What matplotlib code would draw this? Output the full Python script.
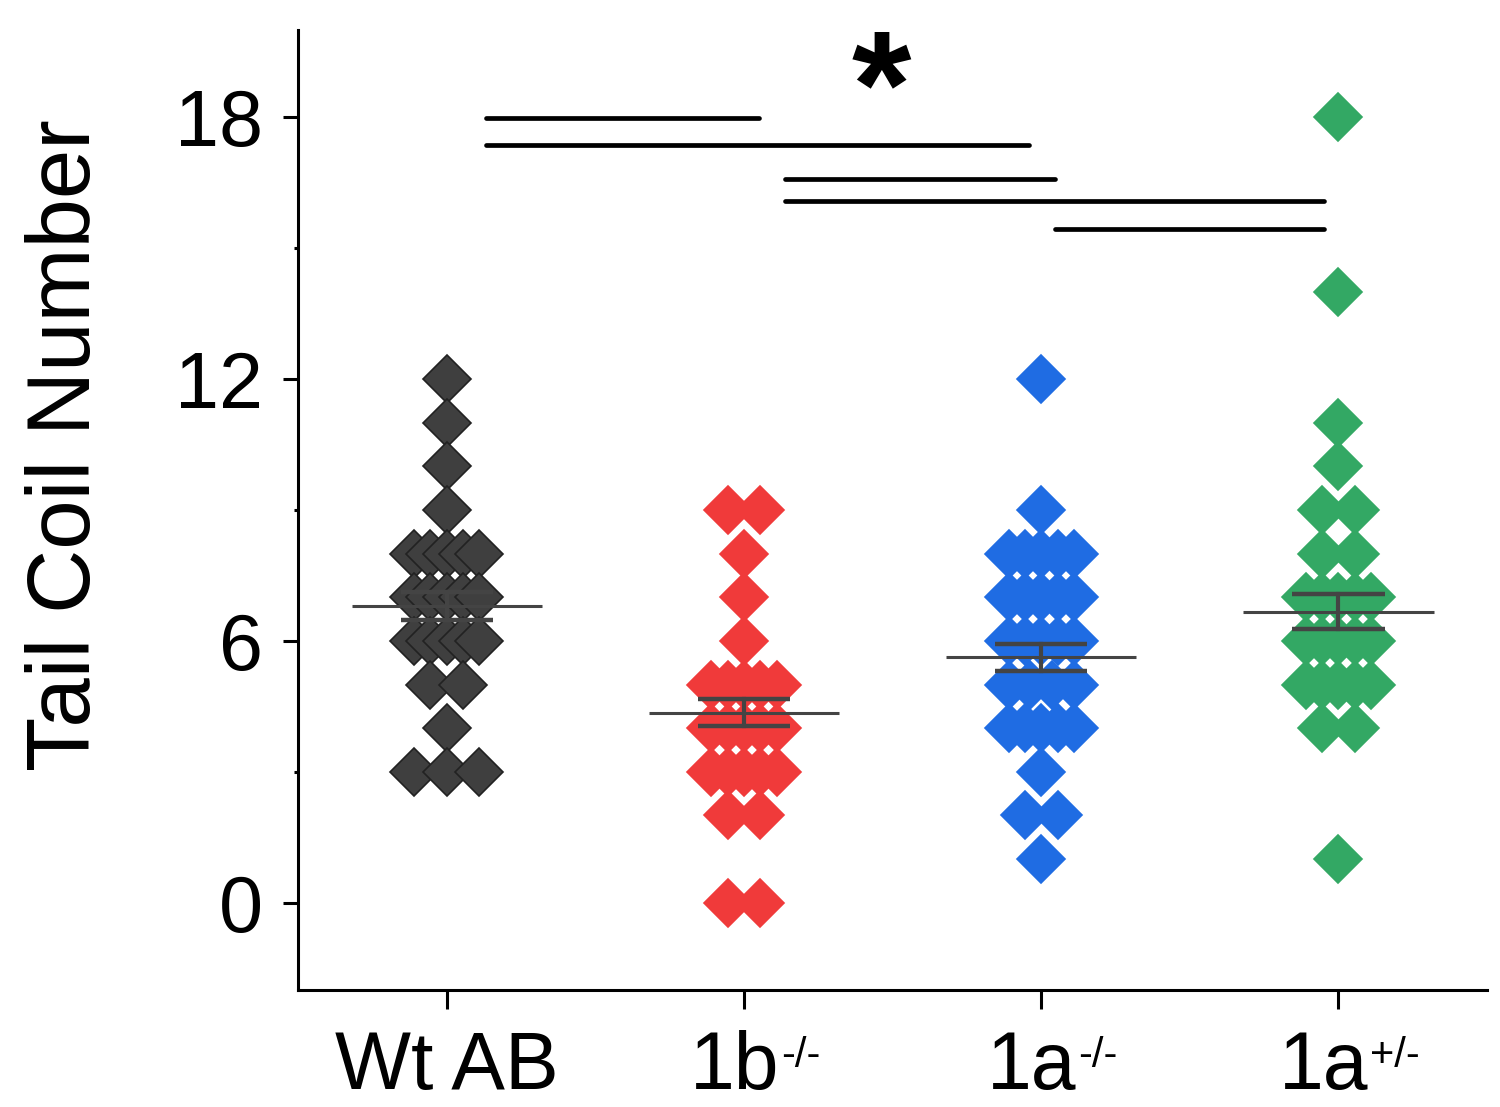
import numpy as np
import matplotlib
matplotlib.use("Agg")
import matplotlib.pyplot as plt
from matplotlib import transforms

plt.rcParams['font.family'] = ['Liberation Sans', 'DejaVu Sans']

# ---------------- data ----------------
categories = ['Wt AB', '1b', '1a', '1a']
superscripts = ['', '-/-', '-/-', '+/-']
wt_vals = [12, 11, 10, 9, 8, 8, 8, 8, 8, 7, 7, 7, 7, 7, 6, 6, 6, 6, 6, 5, 5, 4, 3, 3, 3]
b1_vals = [9, 9, 8, 7, 6, 5, 5, 5, 5, 5, 4, 4, 4, 4, 4, 3, 3, 3, 3, 3, 2, 2, 0, 0]
a1_vals = [12, 9, 8, 8, 8, 8, 8, 7, 7, 7, 7, 7, 6, 6, 6, 6, 6, 5, 5, 5, 5, 4, 4, 4, 4, 4, 3, 2, 2, 1]
a1het_vals = [18, 14, 11, 10, 9, 9, 8, 8, 7, 7, 7, 7, 7, 6, 6, 6, 6, 6, 5, 5, 5, 5, 5, 4, 4, 1]
group_vals = [wt_vals, b1_vals, a1_vals, a1het_vals]

means = [6.80, 4.35, 5.63, 6.67]
sems = [0.33, 0.31, 0.31, 0.40]

colors = ['#3f3f3f', '#f03a3a', '#1f6ce3', '#33a864']
edgecolors = ['#222222', '#f03a3a', '#1f6ce3', '#33a864']

# significance bars (start group pos, end group pos, height)
sig_x_start = [0.131, 0.131, 1.137, 1.137, 2.045]
sig_x_end = [1.049, 1.958, 2.045, 2.953, 2.953]
sig_y = [17.99, 17.37, 16.59, 16.09, 15.45]
star_x = 1.463
star_y = 18.45

yticks = [0, 6, 12, 18]
yminor = [3, 9, 15]


def swarm_offsets(vals, dx, wmax):
    vals = np.asarray(vals)
    off = np.zeros(len(vals))
    for v in np.unique(vals):
        idx = np.where(vals == v)[0]
        n = len(idx)
        if n == 1:
            continue
        w = min((n - 1) / 2.0 * dx, wmax)
        off[idx] = np.linspace(-w, w, n)
    return off


fig = plt.figure(figsize=(15, 11.07), dpi=100)
ax = fig.add_axes([0.1987, 0.1057, 0.7927, 0.8672])

positions = np.arange(len(categories))
for i, vals in enumerate(group_vals):
    xs = positions[i] + swarm_offsets(vals, 0.11, 0.11)
    ax.plot(xs, vals, linestyle='none', marker='D', markersize=24,
            markerfacecolor=colors[i], markeredgecolor=edgecolors[i],
            markeredgewidth=1.2, zorder=2)

err_color = '#444444'
for i in range(len(categories)):
    p = positions[i]
    m = means[i]
    s = sems[i]
    ax.plot([p - 0.32, p + 0.32], [m, m], color=err_color, lw=2.2, zorder=4,
            solid_capstyle='butt')
    ax.plot([p, p], [m - s, m + s], color=err_color, lw=3.0, zorder=4)
    for yy in (m - s, m + s):
        ax.plot([p - 0.155, p + 0.155], [yy, yy], color=err_color, lw=3.2,
                zorder=4, solid_capstyle='butt')

for xs_, xe_, yy in zip(sig_x_start, sig_x_end, sig_y):
    ax.plot([xs_, xe_], [yy, yy], color='black', lw=3.4, zorder=3,
            solid_capstyle='round')

ax.text(star_x, star_y, '*', fontsize=110, fontweight='bold', ha='center',
        va='center', color='black')

ax.set_xlim(-0.5, 3.5)
ax.set_ylim(-2, 20)

ax.spines['top'].set_visible(False)
ax.spines['right'].set_visible(False)
ax.spines['left'].set_linewidth(2.2)
ax.spines['bottom'].set_linewidth(2.2)

ax.set_xticks(positions)
ax.set_xticklabels([])
ax.set_yticks(yticks)
ax.set_yticks(yminor, minor=True)
ax.set_yticklabels([str(t) for t in yticks], fontsize=57)
ax.tick_params(axis='x', which='major', direction='out', length=14, width=2.2)
ax.tick_params(axis='y', which='major', direction='out', length=11, width=2.2, pad=14)
ax.tick_params(axis='y', which='minor', direction='out', length=3, width=2.2)

ax.set_ylabel('Tail Coil Number', fontsize=64)
ax.yaxis.set_label_coords(-0.159, 0.568)

# x tick labels: base text + small superscript, drawn as real text
xtrans = ax.get_xaxis_transform()
base_texts = []
sup_texts = []
for p, base, sup in zip(positions, categories, superscripts):
    tb = ax.text(p, 0, base, fontsize=58, ha='left', va='top',
                 transform=xtrans, clip_on=False)
    ts = ax.text(p, 0, sup, fontsize=30, ha='left', va='top',
                 transform=xtrans, clip_on=False)
    base_texts.append(tb)
    sup_texts.append(ts)

fig.canvas.draw()
renderer = fig.canvas.get_renderer()
label_top_px = -40  # offset below the spine, in pixels
for p, tb, ts, sup in zip(positions, base_texts, sup_texts, superscripts):
    wb = tb.get_window_extent(renderer).width
    ws = ts.get_window_extent(renderer).width if sup else 0.0
    total = wb + ws
    shift = 10 if sup else 0
    x0 = -total / 2.0 + shift
    tb.set_transform(transforms.offset_copy(xtrans, fig=fig, x=x0, y=label_top_px, units='dots'))
    ts.set_transform(transforms.offset_copy(xtrans, fig=fig, x=x0 + wb + 2, y=label_top_px - 6, units='dots'))

fig.savefig('out.png', dpi=100)
